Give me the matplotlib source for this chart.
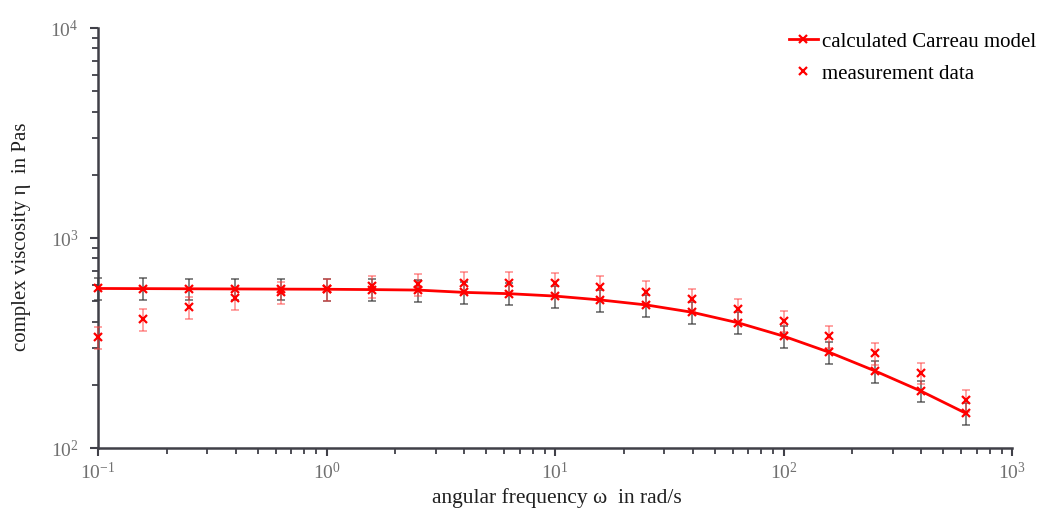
import matplotlib
matplotlib.use('Agg')
import matplotlib.pyplot as plt
from matplotlib.ticker import LogLocator, NullFormatter

plt.rcParams['font.family'] = ['Liberation Serif', 'DejaVu Serif']
plt.rcParams['mathtext.fontset'] = 'custom'
plt.rcParams['mathtext.rm'] = 'Liberation Serif'

# angular frequency in rad/s
omega = [0.1, 0.158, 0.251, 0.398, 0.631, 1.0, 1.58, 2.51, 3.98, 6.31,
         10, 15.8, 25.1, 39.8, 63.1, 100, 158, 251, 398, 631]

# calculated Carreau model (Pas) and its spread
eta_model = [575, 574, 573, 572, 571, 570, 568, 565, 551, 543,
             529, 507, 480, 443, 395, 341, 286, 233, 187, 146]
eta_model_err = [68, 68, 68, 68, 67, 67, 67, 67, 66, 65,
                 63, 61, 58, 53, 47, 41, 34, 28, 22, 18]

# measurement data (Pas) and its spread
eta_meas = [336, 410, 468, 516, 551, 570, 590, 603, 613, 613,
            608, 586, 555, 511, 458, 403, 341, 282, 228, 169]
eta_meas_err = [40, 49, 56, 62, 66, 68, 71, 72, 74, 74,
                73, 70, 67, 61, 55, 48, 41, 34, 27, 20]

axis_col = '#404048'
tick_col = '#707070'

fig = plt.figure(figsize=(10.38, 5.11), dpi=100)
ax = fig.add_axes([98 / 1038, 63 / 511, 914 / 1038, 420 / 511])

# error bars first
eb1 = ax.errorbar(omega, eta_model, yerr=eta_model_err, fmt='none',
                  ecolor='#303030', elinewidth=1.1, capsize=3, capthick=1.1,
                  alpha=0.75, zorder=2)
eb2 = ax.errorbar(omega, eta_meas, yerr=eta_meas_err, fmt='none',
                  ecolor='#ff4040', elinewidth=1.1, capsize=3, capthick=1.1,
                  alpha=0.6, zorder=3)
for eb in (eb1, eb2):
    for art in list(eb.lines[1]) + list(eb.lines[2]):
        art.set_clip_on(False)

ax.plot(omega, eta_model, color='#ff0000', lw=2, marker='x', ms=6, mew=1.6,
        label='calculated Carreau model', zorder=4, clip_on=False)
ax.plot(omega, eta_meas, color='#ff0000', ls='none', marker='x', ms=6, mew=1.6,
        label='measurement data', zorder=5, clip_on=False)

ax.set_xscale('log')
ax.set_yscale('log')
ax.set_xlim(0.1, 1000)
ax.set_ylim(100, 10000)

ax.xaxis.set_major_locator(LogLocator(base=10, numticks=10))
ax.xaxis.set_minor_locator(LogLocator(base=10, subs=range(2, 10), numticks=40))
ax.yaxis.set_major_locator(LogLocator(base=10, numticks=10))
ax.yaxis.set_minor_locator(LogLocator(base=10, subs=range(2, 10), numticks=40))
ax.xaxis.set_minor_formatter(NullFormatter())
ax.yaxis.set_minor_formatter(NullFormatter())

for s in ('top', 'right'):
    ax.spines[s].set_visible(False)
for s in ('left', 'bottom'):
    ax.spines[s].set_color(axis_col)
    ax.spines[s].set_linewidth(1.8)

ax.tick_params(which='major', direction='out', length=6, width=1.5,
               color=axis_col, labelcolor=tick_col, labelsize=14)
ax.tick_params(axis='x', which='major', pad=4)
ax.tick_params(axis='y', which='major', pad=8)
ax.tick_params(which='minor', direction='out', length=4, width=1.3,
               color=axis_col)

fig.text(22 / 1038, 1 - 237 / 511, 'complex viscosity η  in Pas', rotation=90,
         ha='center', va='center', fontsize=15, color='#202020')
fig.text(557 / 1038, 1 - 498 / 511, 'angular frequency ω  in rad/s',
         ha='center', va='center', fontsize=15.5, color='#202020')

ax.legend(loc='upper right', bbox_to_anchor=(1036 / 1038, 1 - 32 / 511),
          bbox_transform=fig.transFigure, frameon=False, fontsize=15,
          handlelength=1.4, handletextpad=0.2, labelspacing=0.6,
          borderaxespad=0, borderpad=0)

fig.savefig('out.png', dpi=100)
